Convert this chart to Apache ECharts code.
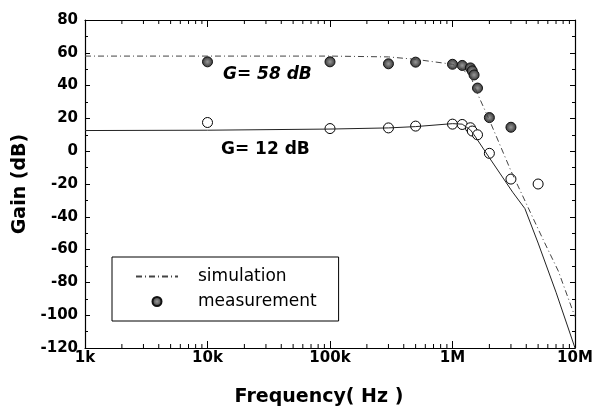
<!DOCTYPE html>
<html>
<head>
<meta charset="utf-8">
<script src="https://cdn.jsdelivr.net/npm/echarts@6/dist/echarts.min.js"></script>
<style>
  html, body { margin: 0; padding: 0; background: #fff; }
  #chart { width: 596px; height: 419px; }
</style>
</head>
<body>
<div id="chart"></div>
<script>
// frequency in Hz, gain in dB
let sim58 = [[1e3, 58], [1e4, 58], [1e5, 58], [3e5, 57.5], [5e5, 56], [1e6, 53], [1.2e6, 50],
  [1.4e6, 46], [1.6e6, 35], [2e6, 19], [3e6, -12], [5.5e6, -54], [7.3e6, -73], [1e7, -101]];
let sim12 = [[1e3, 12.6], [1e4, 12.8], [1e5, 13.5], [3e5, 14.2], [5e5, 15], [1e6, 16.8], [1.2e6, 16.5],
  [1.4e6, 13], [1.5e6, 10], [2e6, -4], [3.1e6, -25], [3.9e6, -35], [5e6, -56], [7e6, -86], [1e7, -120]];
let meas58 = [[1e4, 54.5], [1e5, 54.5], [3e5, 53.3], [5e5, 54.3], [1e6, 53], [1.2e6, 52.3], [1.4e6, 50.8],
  [1.45e6, 49], [1.5e6, 46.5], [1.6e6, 38.5], [2e6, 20.5], [3e6, 14.6]];
let meas12 = [[1e4, 17.5], [1e5, 13.8], [3e5, 14.2], [5e5, 15.3], [1e6, 16.5], [1.2e6, 16.3], [1.4e6, 14.3],
  [1.45e6, 12.3], [1.6e6, 10], [2e6, -1.3], [3e6, -17], [5e6, -20]];
let xTickLabels = ['1k', '10k', '100k', '1M', '10M'];

// minor tick positions of the log axis (2..9 in every decade)
let minorFreqs = [];
for (let d = 1e3; d < 1e7; d *= 10) {
  for (let m = 2; m <= 9; m++) minorFreqs.push([d * m, -120]);
}

let chart = echarts.init(document.getElementById('chart'));
let boldFont = 'DejaVu Sans';

let xBase = {
  type: 'log', logBase: 10, min: 1e3, max: 1e7,
  axisLine: { onZero: false, lineStyle: { color: '#000', width: 1.2 } },
  axisTick: { inside: true, length: 7, lineStyle: { color: '#000' } },
  splitLine: { show: false }
};
let yBase = {
  type: 'value', min: -120, max: 80, interval: 20,
  axisLine: { show: true, onZero: false, lineStyle: { color: '#000', width: 1.2 } },
  axisTick: { inside: true, length: 5, lineStyle: { color: '#000' } },
  minorTick: { show: true, splitNumber: 2, length: 3, lineStyle: { color: '#000' } },
  splitLine: { show: false }
};

let option = {
  animation: false,
  backgroundColor: '#fff',
  grid: { left: 85, right: 21, top: 20, bottom: 71, outerBoundsMode: 'none' },
  xAxis: [
    Object.assign({}, xBase, {
      position: 'bottom',
      name: 'Frequency( Hz )', nameLocation: 'middle', nameGap: 40,
      nameTextStyle: { fontFamily: boldFont, fontWeight: 'bold', fontSize: 19, color: '#000', padding: [0, 22, 0, 0] },
      axisLabel: {
        margin: 3, fontFamily: boldFont, fontWeight: 'bold', fontSize: 15, color: '#000',
        formatter: function (v) { return xTickLabels[Math.round(Math.log10(v)) - 3]; }
      }
    }),
    Object.assign({}, xBase, { position: 'top', axisLabel: { show: false } })
  ],
  yAxis: [
    Object.assign({}, yBase, {
      position: 'left',
      name: 'Gain (dB)', nameLocation: 'middle', nameGap: 52, nameRotate: 90,
      nameTextStyle: { fontFamily: boldFont, fontWeight: 'bold', fontSize: 19, color: '#000' },
      axisLabel: { margin: 7, fontFamily: boldFont, fontWeight: 'bold', fontSize: 15, color: '#000' }
    }),
    Object.assign({}, yBase, { position: 'right', axisLabel: { show: false } })
  ],
  legend: {
    data: [
      { name: 'simulation', itemStyle: { opacity: 0 } },
      { name: 'measurement' }
    ],
    orient: 'vertical', left: 112, top: 257,
    padding: [11, 22, 11, 23],
    itemWidth: 42, itemHeight: 9, itemGap: 8,
    borderColor: '#000', borderWidth: 1,
    textStyle: { fontFamily: 'DejaVu Sans', fontSize: 17, color: '#000', padding: [0, 0, 0, 15], lineHeight: 12 }
  },
  graphic: [
    { type: 'text', x: 223, y: 75, style: { text: 'G= 58 dB', font: 'italic bold 17px "DejaVu Sans"', fill: '#000', verticalAlign: 'middle' } },
    { type: 'text', x: 221, y: 150, style: { text: 'G= 12 dB', font: 'bold 17px "DejaVu Sans"', fill: '#000', verticalAlign: 'middle' } }
  ],
  series: [
    {
      name: 'simulation', type: 'line', data: sim58, symbol: 'none',
      itemStyle: { color: '#444' },
      lineStyle: { color: '#444', width: 1, type: [6, 3, 1, 3] }
    },
    {
      name: 'sim12', type: 'line', data: sim12, symbol: 'none',
      itemStyle: { color: '#222' },
      lineStyle: { color: '#222', width: 1 }
    },
    {
      name: 'measurement', type: 'scatter', data: meas58, symbol: 'circle', symbolSize: 10,
      itemStyle: {
        color: { type: 'radial', x: 0.5, y: 0.5, r: 0.5, colorStops: [{ offset: 0, color: '#999' }, { offset: 1, color: '#333' }] },
        borderColor: '#111', borderWidth: 1, opacity: 1
      }
    },
    {
      name: 'meas12', type: 'scatter', data: meas12, symbol: 'circle', symbolSize: 10,
      itemStyle: { color: '#fff', borderColor: '#000', borderWidth: 1, opacity: 1 }
    },
    {
      name: 'minorTicks', type: 'custom', data: minorFreqs, silent: true, z: 1,
      renderItem: function (params, api) {
        let b = api.coord([api.value(0), -120]);
        let t = api.coord([api.value(0), 80]);
        let st = { stroke: '#000', lineWidth: 1 };
        return {
          type: 'group', children: [
            { type: 'line', shape: { x1: b[0], y1: b[1], x2: b[0], y2: b[1] - 4 }, style: st },
            { type: 'line', shape: { x1: t[0], y1: t[1], x2: t[0], y2: t[1] + 4 }, style: st }
          ]
        };
      }
    }
  ]
};

chart.setOption(option);
</script>
</body>
</html>
